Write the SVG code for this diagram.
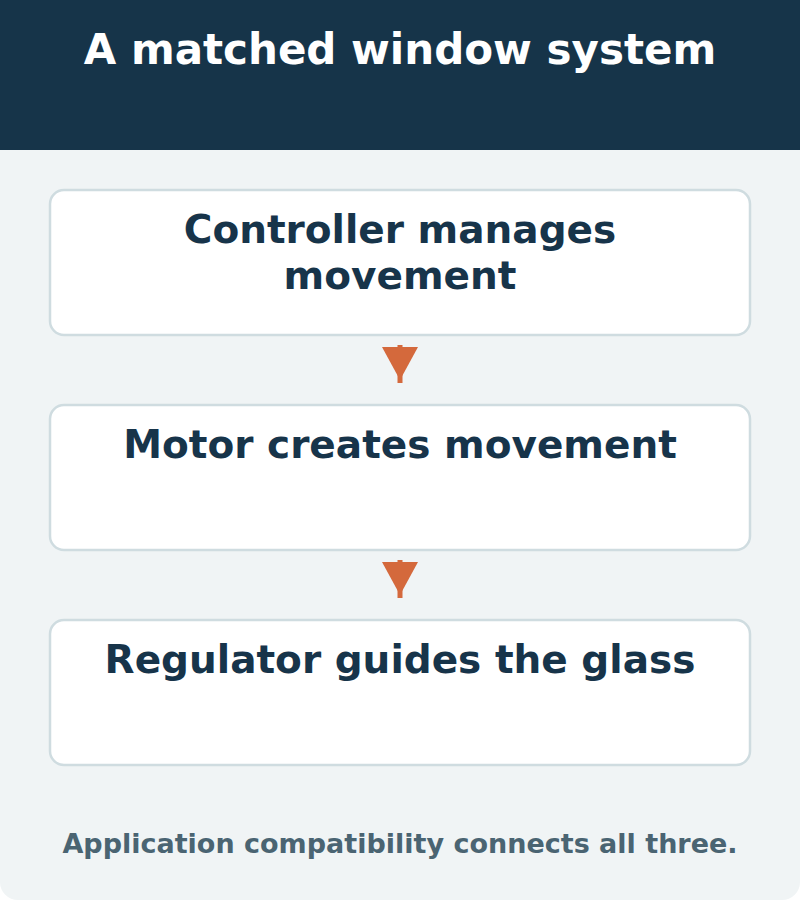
<svg xmlns="http://www.w3.org/2000/svg" width="800" height="900" viewBox="0 0 800 900">
<style>
.t{font-family:"DejaVu Sans",sans-serif;font-weight:bold;text-anchor:middle}
.box{fill:#ffffff;stroke:#cfdce0;stroke-width:2.5}
.lbl{font-size:39px;fill:#17344a}
.arr{stroke:#d4693c;stroke-width:5}
.ah{fill:#d4693c}
</style>
<rect x="0" y="0" width="800" height="900" rx="18" fill="#f0f4f5"/>
<rect x="0" y="0" width="800" height="150" fill="#163449"/>
<text class="t" x="400" y="64" font-size="42" fill="#ffffff">A matched window system</text>
<g id="connectors">
<line class="arr" x1="400" y1="345" x2="400" y2="383"/>
<polygon class="ah" points="382,347 418,347 400,380"/>
<line class="arr" x1="400" y1="560" x2="400" y2="598"/>
<polygon class="ah" points="382,562 418,562 400,595"/>
</g>
<g id="controller">
<rect class="box" x="50" y="190" width="700" height="145" rx="14"/>
<text class="t lbl" x="400" y="243">Controller manages</text>
<text class="t lbl" x="400" y="289">movement</text>
</g>
<g id="motor">
<rect class="box" x="50" y="405" width="700" height="145" rx="14"/>
<text class="t lbl" x="400" y="458">Motor creates movement</text>
</g>
<g id="regulator">
<rect class="box" x="50" y="620" width="700" height="145" rx="14"/>
<text class="t lbl" x="400" y="673">Regulator guides the glass</text>
</g>
<text class="t" x="400" y="853" font-size="27" fill="#4a6472">Application compatibility connects all three.</text>
</svg>
